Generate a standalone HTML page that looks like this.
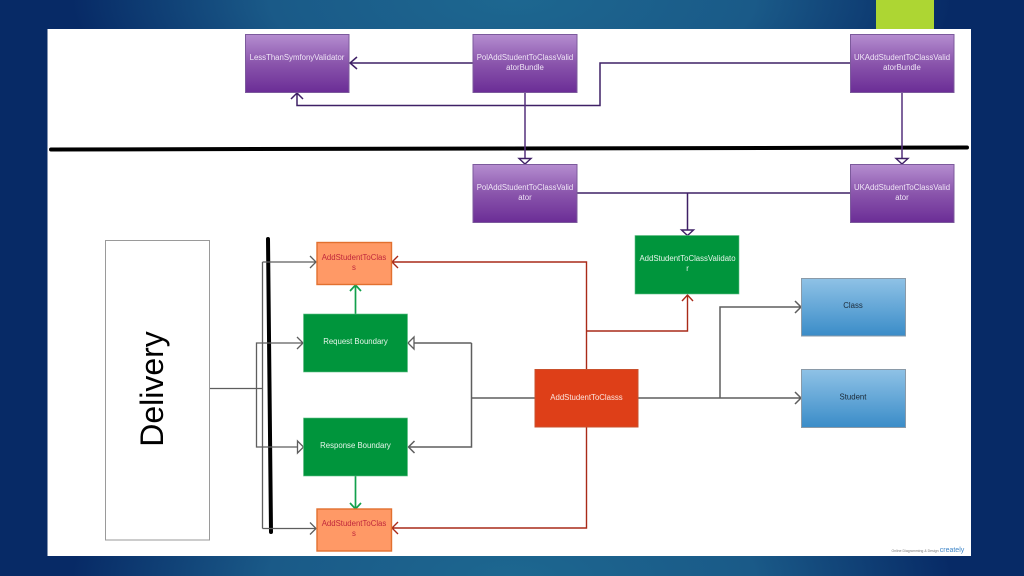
<!DOCTYPE html>
<html><head><meta charset="utf-8"><style>
html,body{margin:0;padding:0;width:1024px;height:576px;overflow:hidden;background:#072a66}
svg{display:block}
text{font-family:"Liberation Sans",sans-serif;text-anchor:middle}
</style></head><body>
<svg width="1024" height="576" viewBox="0 0 1024 576" xmlns="http://www.w3.org/2000/svg">
<defs>
<radialGradient id="t" gradientUnits="userSpaceOnUse" cx="512" cy="0" r="440" gradientTransform="translate(0 0) scale(1 .35)"><stop offset="0" stop-color="#1d6790"/><stop offset=".55" stop-color="#1a5a88"/><stop offset="1" stop-color="#1a5a88" stop-opacity="0"/></radialGradient>
<radialGradient id="b" gradientUnits="userSpaceOnUse" cx="512" cy="576" r="440" gradientTransform="translate(0 374.400) scale(1 .35)"><stop offset="0" stop-color="#1d6790"/><stop offset=".55" stop-color="#1a5a88"/><stop offset="1" stop-color="#1a5a88" stop-opacity="0"/></radialGradient>
<linearGradient id="p" x1="0" y1="0" x2="0" y2="1"><stop offset="0" stop-color="#b58dd0"/><stop offset=".5" stop-color="#8a55ac"/><stop offset="1" stop-color="#6b2d96"/></linearGradient>
<linearGradient id="bl" x1="0" y1="0" x2="0" y2="1"><stop offset="0" stop-color="#8fc2e6"/><stop offset="1" stop-color="#3a8cc8"/></linearGradient>
</defs>
<rect width="1024" height="576" fill="#072a66"/>
<rect width="1024" height="576" fill="url(#t)"/>
<rect width="1024" height="576" fill="url(#b)"/>
<rect x="876" y="0" width="58" height="30" fill="#add633"/>
<rect x="47.5" y="29" width="923.5" height="527" fill="#fff"/>

<g fill="none" stroke="#000" stroke-linecap="round" stroke-width="4">
<path d="M51 149.500L967 147.500"/>
<path d="M268 239L271 532"/>
</g>

<g fill="none" stroke="#3f2066" stroke-width="1.500">
<path d="M473 63H350M357 57L350 63L357 69"/>
<path d="M850 63H600V105.500H297V93M291 99L297 93L303 99"/>
</g>
<g fill="none" stroke="#54307c" stroke-width="1.500">
<path d="M525 92.500V158"/>
<path d="M902 92.500V158"/>
</g>
<g fill="#fff" stroke="#3f2066" stroke-width="1.400">
<path d="M519 158.500H531L525 164Z"/>
<path d="M896 158.500H908L902 164Z"/>
</g>
<g fill="none" stroke="#3f2066" stroke-width="1.500">
<path d="M577 193H850M687.500 193V230"/>
</g>
<path d="M681.500 230H693.500L687.500 235.500Z" fill="#fff" stroke="#3f2066" stroke-width="1.400"/>

<g fill="none" stroke="#5e5e5e" stroke-width="1.300">
<path d="M209 388.500H262.500V262M262.500 388.500V528.500"/>
<path d="M262.500 262H316M310 256L316 262L310 268"/>
<path d="M262.500 528.500H316M310 522.500L316 528.500L310 534.500"/>
<path d="M256.500 388.500V343H303M297 337L303 343L297 349"/>
<path d="M256.500 388.500V447H297"/>
</g>
<path d="M297.500 441L303.500 447L297.500 453Z" fill="#fff" stroke="#5e5e5e" stroke-width="1.300"/>
<g fill="none" stroke="#5e5e5e" stroke-width="1.500">
<path d="M534.500 398H471.500M471.500 343V447H408.500M414.500 441L408.500 447L414.500 453"/>
<path d="M471.500 343H414"/>
<path d="M638 398H801M795 392L801 398L795 404"/>
<path d="M720 398V307H801M795 301L801 307L795 313"/>
</g>
<path d="M414 337L408 343L414 349Z" fill="#fff" stroke="#5e5e5e" stroke-width="1.300"/>

<g fill="none" stroke="#a92a18" stroke-width="1.400">
<path d="M586.500 369.500V262H392M398 256L392 262L398 268"/>
<path d="M586.500 331H687.500V295M682 301L687.500 295L693 301"/>
<path d="M586.500 427V528H392M398 522L392 528L398 534"/>
</g>
<g fill="none" stroke="#12a04c" stroke-width="1.700">
<path d="M355.500 314V285M350 291L355.500 285L361 291"/>
<path d="M355.500 476V509M350 503L355.500 509L361 503"/>
</g>

<g fill="url(#p)" stroke="#7c5a9c" stroke-width="1">
<rect x="245.500" y="34.500" width="103.500" height="58"/>
<rect x="473" y="34.500" width="104" height="58"/>
<rect x="850.500" y="34.500" width="103.500" height="58"/>
<rect x="473" y="164.500" width="104" height="58"/>
<rect x="850.500" y="164.500" width="103.500" height="58"/>
</g>
<g fill="#00953c" stroke="#5fbf85" stroke-width=".6">
<rect x="635" y="235.500" width="104" height="58.500"/>
<rect x="303.500" y="314" width="104" height="58"/>
<rect x="303.500" y="418" width="104" height="58"/>
</g>
<g fill="url(#bl)" stroke="#8a9aa8" stroke-width="1">
<rect x="801.500" y="278.500" width="104" height="57.500"/>
<rect x="801.500" y="369.500" width="104" height="58"/>
</g>
<rect x="535" y="369.500" width="103" height="57.500" fill="#de3f18" stroke="#c9502c" stroke-width="1"/>
<g fill="#ff9966" stroke="#e2702f" stroke-width="1.400">
<rect x="317" y="242.500" width="74.500" height="42"/>
<rect x="317" y="509" width="74.500" height="42"/>
</g>
<rect x="105.500" y="240.500" width="104" height="299.500" fill="#fff" stroke="#9a9a9a" stroke-width="1"/>

<text transform="translate(163 389) rotate(-90)" font-size="32" fill="#000">Delivery</text>

<g font-size="7.800" fill="#f0e6f6">
<text x="297" y="60">LessThanSymfonyValidator</text>
<text x="525" y="60">PolAddStudentToClassValid</text>
<text x="525" y="70">atorBundle</text>
<text x="902" y="60">UKAddStudentToClassValid</text>
<text x="902" y="70">atorBundle</text>
<text x="525" y="190">PolAddStudentToClassValid</text>
<text x="525" y="200">ator</text>
<text x="902" y="190">UKAddStudentToClassValid</text>
<text x="902" y="200">ator</text>
</g>
<g font-size="7.800" fill="#e6f5ea">
<text x="687.500" y="261">AddStudentToClassValidato</text>
<text x="687.500" y="271">r</text>
<text x="355.500" y="344">Request Boundary</text>
<text x="355.500" y="448">Response Boundary</text>
</g>
<text x="586.500" y="400" font-size="7.800" fill="#fbe6df">AddStudentToClasss</text>
<g font-size="7.800" fill="#c0283c">
<text x="354" y="260">AddStudentToClas</text>
<text x="354" y="270">s</text>
<text x="354" y="526">AddStudentToClas</text>
<text x="354" y="536">s</text>
</g>
<g font-size="7.800" fill="#1c2a38">
<text x="853" y="308">Class</text>
<text x="853" y="399.500">Student</text>
</g>
<text x="915" y="552" font-size="3.500" fill="#777">Online Diagramming &amp; Design</text>
<text x="952" y="552" font-size="7" fill="#3f86c8">creately</text>
</svg>
</body></html>
